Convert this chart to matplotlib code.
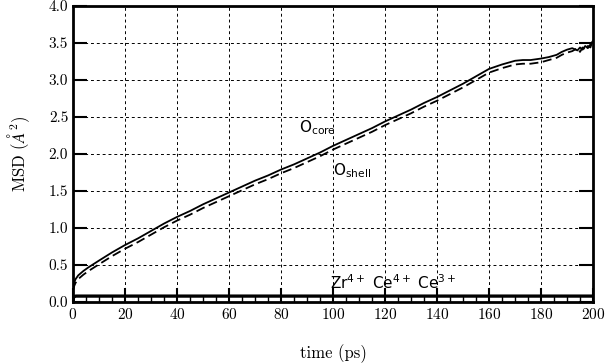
import matplotlib
matplotlib.use("Agg")
import matplotlib.pyplot as plt
from matplotlib.ticker import MultipleLocator

plt.rcParams['font.family'] = 'serif'
plt.rcParams['font.serif'] = ['cmr10', 'DejaVu Serif']
plt.rcParams['mathtext.fontset'] = 'cm'
plt.rcParams['axes.formatter.use_mathtext'] = True

# O core (solid)
t_core = [0, 0.5, 1, 2, 4, 6, 10, 15, 20, 25, 30, 35, 40, 45, 50, 55, 60, 65, 70, 75, 80, 85, 90,
          95, 100, 105, 110, 115, 120, 125, 130, 135, 140, 145, 150, 155, 160, 165, 170, 173, 176,
          180, 183, 186, 188, 190, 192, 194, 195, 196, 197, 198, 199, 200]
msd_core = [0.20, 0.27, 0.31, 0.36, 0.42, 0.47, 0.56, 0.67, 0.77, 0.86, 0.96, 1.06, 1.15, 1.23, 1.32,
            1.40, 1.48, 1.56, 1.64, 1.71, 1.79, 1.86, 1.94, 2.02, 2.11, 2.19, 2.27, 2.35, 2.44, 2.52,
            2.60, 2.69, 2.77, 2.86, 2.95, 3.05, 3.15, 3.21, 3.26, 3.27, 3.27, 3.29, 3.31, 3.34, 3.38,
            3.41, 3.43, 3.40, 3.44, 3.41, 3.46, 3.43, 3.48, 3.53]
# O shell (dashed)
t_shell = t_core
msd_shell = [0.16, 0.22, 0.26, 0.31, 0.37, 0.42, 0.51, 0.62, 0.72, 0.81, 0.91, 1.01, 1.10, 1.18, 1.27,
             1.35, 1.43, 1.51, 1.59, 1.66, 1.74, 1.81, 1.89, 1.97, 2.06, 2.14, 2.22, 2.30, 2.39, 2.47,
             2.55, 2.64, 2.72, 2.81, 2.90, 3.00, 3.10, 3.16, 3.21, 3.22, 3.22, 3.24, 3.27, 3.30, 3.34,
             3.37, 3.39, 3.43, 3.38, 3.44, 3.41, 3.46, 3.44, 3.55]
# cations
t_cat = [0, 0.5, 1, 5, 20, 50, 100, 150, 200]
msd_zr = [0.00, 0.06, 0.07, 0.07, 0.07, 0.07, 0.07, 0.07, 0.07]
msd_ce4 = [0.00, 0.07, 0.08, 0.08, 0.08, 0.08, 0.08, 0.08, 0.08]
msd_ce3 = [0.00, 0.08, 0.09, 0.09, 0.09, 0.09, 0.09, 0.09, 0.09]

fig = plt.figure(figsize=(6.05, 3.64), dpi=100)
ax = fig.add_axes([0.1207, 0.1703, 0.8595, 0.8132])

ax.plot(t_core, msd_core, 'k-', lw=1.3)
ax.plot(t_shell, msd_shell, 'k--', lw=1.3, dashes=(5, 2.5))
ax.plot(t_cat, msd_zr, 'k-', lw=1.3)
ax.plot(t_cat, msd_ce4, 'k-', lw=1.3)
ax.plot(t_cat, msd_ce3, 'k-', lw=1.3)

ax.set_xlim(0, 200)
ax.set_ylim(0, 4)
ax.xaxis.set_major_locator(MultipleLocator(20))
ax.xaxis.set_minor_locator(MultipleLocator(5))
ax.yaxis.set_major_locator(MultipleLocator(0.5))
ax.yaxis.set_major_formatter(plt.FormatStrFormatter('%.1f'))
ax.grid(True, which='major', color='k', ls=(0, (3, 3)), lw=0.7)
ax.tick_params(which='major', direction='in', length=10, width=1.5, top=False, right=True,
               labelsize=11)
ax.tick_params(which='minor', direction='in', length=4, width=1, top=False)
for s in ax.spines.values():
    s.set_linewidth(2)

ax.set_xlabel('time (ps)', fontsize=12, labelpad=16)
ax.set_ylabel(r'MSD ($\AA^2$)', fontsize=12, labelpad=12)

sans = ['DejaVu Sans']
ax.text(87, 2.35, r'O$_{\mathrm{core}}$', fontsize=11, family=sans, va='center',
        math_fontfamily='dejavusans')
ax.text(100, 1.78, r'O$_{\mathrm{shell}}$', fontsize=11, family=sans, va='center',
        math_fontfamily='dejavusans')
ax.text(99, 0.26, r'Zr$^{4+}$ Ce$^{4+}$ Ce$^{3+}$', fontsize=11, family=sans, va='center',
        math_fontfamily='dejavusans')

fig.savefig('out.png', dpi=100)
